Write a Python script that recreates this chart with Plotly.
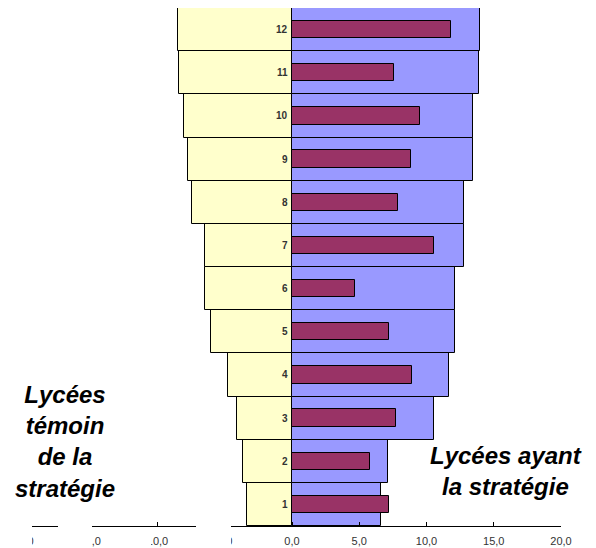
import plotly.graph_objects as go

# Niveaux (1 à 12) et valeurs des trois séries
niveaux = list(range(1, 13))
temoin = [3.35, 3.61, 4.11, 4.76, 6.02, 6.49, 6.49, 7.43, 7.73, 8.00, 8.40, 8.48]
ayant = [6.65, 7.14, 10.56, 11.70, 12.10, 12.15, 12.82, 12.82, 13.49, 13.49, 13.88, 13.96]
ayant_detail = [7.21, 5.80, 7.71, 8.95, 7.24, 4.66, 10.56, 7.91, 8.85, 9.52, 7.61, 11.80]

x_ticks = [-20, -15, -10, -5, 0, 5, 10, 15, 20]
x_labels = ["20,0", "15,0", "10,0", "5,0", "0,0", "5,0", "10,0", "15,0", "20,0"]

W, H = 596, 548
ML, MR, MT, MB = 23, 35, 8, 22
PW, PH = W - ML - MR, H - MT - MB


def px_x(px):
    return (px - ML) / PW


def px_y(py):
    return (H - MB - py) / PH


edge = dict(color="#000000", width=1)

fig = go.Figure()
fig.add_trace(go.Bar(
    y=niveaux, x=[-v for v in temoin], orientation="h", width=1,
    marker=dict(color="#FFFFCC", line=edge), name="Lycées témoin",
))
fig.add_trace(go.Bar(
    y=niveaux, x=ayant, orientation="h", width=1,
    marker=dict(color="#9999FF", line=edge), name="Lycées ayant la stratégie",
))
fig.add_trace(go.Bar(
    y=niveaux, x=ayant_detail, orientation="h", width=0.4,
    marker=dict(color="#993366", line=edge), name="Détail",
))

annotations = [
    dict(text="Lycées<br>témoin<br>de la<br>stratégie",
         x=px_x(65), y=px_y(441), xref="paper", yref="paper",
         xanchor="center", yanchor="middle", showarrow=False,
         font=dict(family="Liberation Sans, Arial", size=24, color="#000000",
                   weight="bold", style="italic")),
    dict(text="Lycées ayant<br>la stratégie",
         x=px_x(506), y=px_y(471), xref="paper", yref="paper",
         xanchor="center", yanchor="middle", showarrow=False,
         font=dict(family="Liberation Sans, Arial", size=24, color="#000000",
                   weight="bold", style="italic")),
]

# Numéros de niveau le long de l'axe central
for n in niveaux:
    annotations.append(dict(
        text=str(n), x=0, y=n, xref="x", yref="y", xanchor="right",
        yanchor="middle", xshift=-2, showarrow=False,
        font=dict(family="Liberation Sans, Arial", size=10,
                  color="#333333", weight="bold"),
    ))

# Encadrés blancs posés sur l'axe horizontal
shapes = []
for x0, x1, y0, y1 in [(0, 32, 520, 548), (58, 92, 520, 548),
                       (196, 231, 520, 548), (140, 151, 530, 548)]:
    shapes.append(dict(
        type="rect", xref="paper", yref="paper",
        x0=px_x(x0), x1=px_x(x1), y0=px_y(y1), y1=px_y(y0),
        fillcolor="#FFFFFF", line=dict(width=0), layer="above",
    ))

fig.update_layout(
    width=W, height=H,
    margin=dict(l=ML, r=MR, t=MT, b=MB, pad=0, autoexpand=False),
    paper_bgcolor="#FFFFFF", plot_bgcolor="#FFFFFF",
    barmode="overlay", bargap=0, showlegend=False,
    font=dict(family="Liberation Sans, Arial"),
    xaxis=dict(
        range=[-20, 20], tickvals=x_ticks, ticktext=x_labels,
        ticks="inside", ticklen=4, tickcolor="#000000",
        showline=True, linecolor="#000000", linewidth=1,
        showgrid=False, zeroline=False, automargin=False,
        ticklabelstandoff=5,
        tickfont=dict(size=11, color="#333333"),
    ),
    yaxis=dict(
        range=[0.5, 12.5], showticklabels=False, automargin=False,
        showline=False, showgrid=False, zeroline=False, ticks="",
    ),
    annotations=annotations,
    shapes=shapes,
)

fig.write_html("out.html")
